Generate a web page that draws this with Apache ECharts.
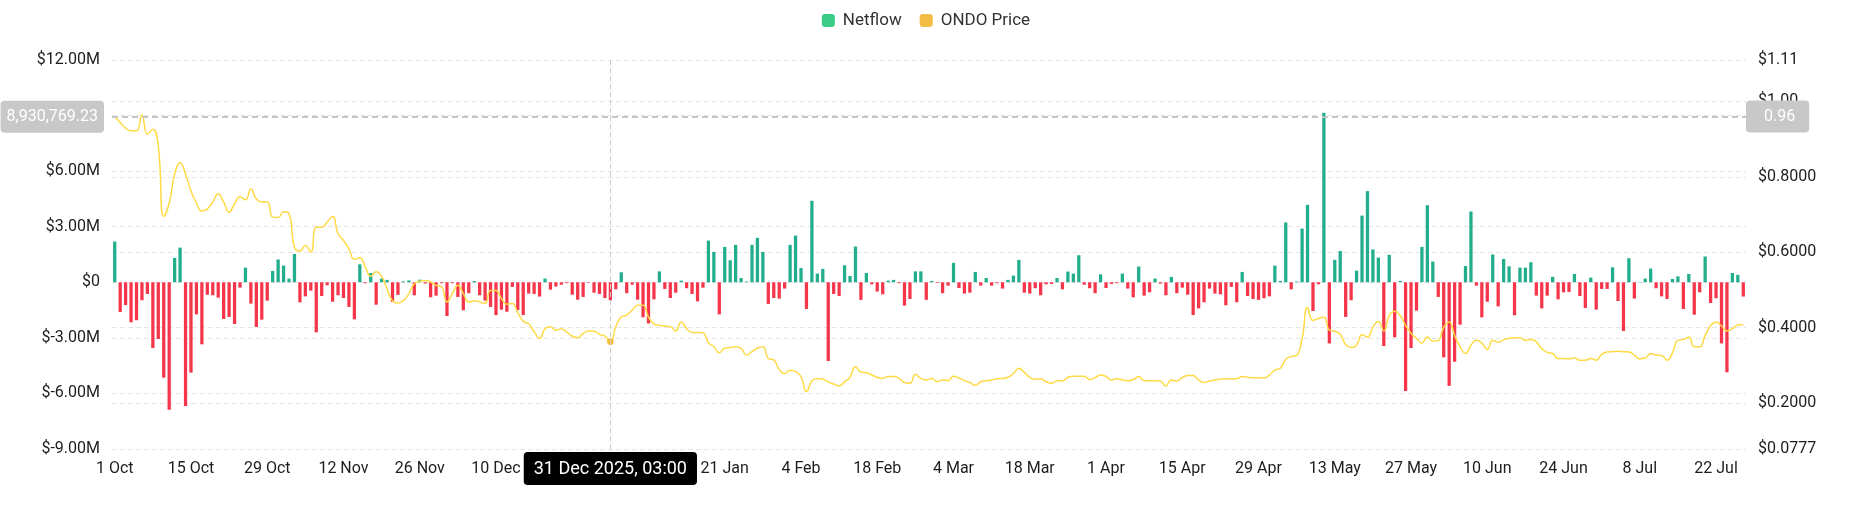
<!DOCTYPE html>
<html><head><meta charset="utf-8">
<script src="https://cdn.jsdelivr.net/npm/echarts@6/dist/echarts.min.js"></script>
<style>html,body{margin:0;padding:0;background:#fff}#c{width:1852px;height:525px}</style>
</head><body><div id="c"></div><script>
// First day of the daily series (UTC), each point stamped 03:00
const startDay = [2025, 9, 1, 3, 0];
const MONTHS = ['Jan','Feb','Mar','Apr','May','Jun','Jul','Aug','Sep','Oct','Nov','Dec'];

// Daily netflow, in millions of USD
const netflowM = [
 2.2,-1.6,-1.23,-2.16,-2.05,-0.97,-0.63,-3.55,-3.06,-5.15,
 -6.88,1.32,1.87,-6.68,-4.88,-1.73,-3.35,-0.67,-0.70,-0.83,
 -1.98,-1.87,-2.25,-0.29,0.79,-1.15,-2.41,-2.02,-0.99,0.61,
 1.23,0.9,0.2,1.53,-1.08,-0.76,-0.45,-2.7,-0.74,-0.16,
 -1.05,-0.70,-0.85,-1.33,-2.0,0.97,-0.05,0.5,-1.21,0.2,
 0.13,-1.06,-0.68,0.05,0.1,-0.7,0.14,-0.07,-0.81,-0.72,
 -0.05,-1.82,-0.05,-0.79,-1.51,-0.59,0.07,-0.7,-0.99,-1.33,
 -1.77,-1.48,-1.59,-0.25,-1.5,-1.77,-0.61,-0.63,-0.77,0.2,
 -0.4,-0.23,-0.13,-0.05,-0.67,-0.94,-0.79,-0.03,-0.56,-0.63,
 -0.85,-0.97,-0.38,0.54,-0.59,-0.13,-0.94,-1.89,-2.22,-0.92,
 0.59,-0.36,-0.85,-0.56,0.09,-0.32,-0.63,-1.03,-0.29,2.25,
 1.64,-1.73,1.91,1.19,2.02,0.23,0.04,2.02,2.4,1.64,
 -1.17,-0.85,-0.88,-0.34,2.02,2.52,0.77,-1.44,4.4,0.47,
 0.72,-4.25,-0.63,-0.74,0.92,0.34,1.93,-0.95,0.5,-0.11,
 -0.5,-0.65,0.09,0.13,-0.05,-1.26,-0.9,0.59,0.59,-0.95,
 0.07,-0.04,-0.59,-0.18,1.05,-0.31,-0.61,-0.56,0.56,-0.18,
 0.23,-0.18,-0.05,-0.34,0.13,0.36,1.21,-0.56,-0.61,-0.32,
 -0.70,-0.11,-0.09,0.23,-0.38,0.58,0.47,1.46,-0.13,-0.32,
 -0.59,0.43,-0.31,-0.09,-0.05,0.47,-0.34,-0.81,0.85,-0.72,
 -0.54,0.2,-0.07,-0.70,0.29,-0.59,-0.29,-0.67,-1.77,-1.41,
 -1.08,-0.34,-0.61,-0.65,-1.24,-0.25,-1.08,0.56,-0.74,-0.9,
 -0.95,-0.86,-0.76,0.9,0.07,3.23,-0.38,0.04,2.9,4.18,
 -1.55,-0.11,9.15,-3.3,1.21,1.69,-1.87,-0.97,0.63,3.6,
 4.92,1.77,1.33,-3.44,1.48,-2.97,0.07,-5.87,-3.55,-1.53,
 1.91,4.16,1.12,-0.79,-4.05,-5.59,-4.29,-2.29,0.88,3.82,
 -0.18,-1.89,-1.05,1.5,-1.3,1.26,0.86,-1.78,0.79,0.79,
 1.08,-0.72,-1.41,-0.72,0.29,-0.92,-0.54,-0.52,0.45,-0.74,
 -1.39,0.25,-1.48,-0.36,-0.36,0.81,-1.01,-2.63,1.3,-0.88,
 0.02,0.2,0.74,-0.32,-0.76,-0.9,0.18,0.32,-1.44,0.45,
 -1.75,-0.54,1.39,-1.12,-0.86,-3.3,-4.86,0.5,0.4,-0.77
];

// Daily ONDO price, USD
const ondoPrice = [
 0.96,0.944,0.929,0.922,0.922,0.964,0.913,0.926,0.88,0.695,
 0.73,0.807,0.837,0.807,0.763,0.73,0.709,0.715,0.733,0.755,
 0.733,0.706,0.728,0.747,0.739,0.768,0.741,0.733,0.733,0.693,
 0.692,0.707,0.702,0.613,0.603,0.618,0.6,0.666,0.666,0.68,
 0.695,0.649,0.631,0.609,0.581,0.585,0.561,0.536,0.548,0.536,
 0.503,0.471,0.465,0.472,0.49,0.516,0.523,0.525,0.521,0.512,
 0.508,0.468,0.49,0.512,0.49,0.468,0.471,0.468,0.464,0.498,
 0.498,0.477,0.462,0.464,0.439,0.417,0.41,0.389,0.371,0.397,
 0.402,0.393,0.396,0.388,0.377,0.373,0.384,0.391,0.39,0.382,
 0.377,0.362,0.402,0.428,0.433,0.446,0.459,0.459,0.428,0.41,
 0.406,0.404,0.402,0.391,0.415,0.397,0.387,0.387,0.386,0.36,
 0.349,0.333,0.345,0.347,0.349,0.345,0.327,0.336,0.345,0.349,
 0.318,0.314,0.289,0.278,0.287,0.283,0.27,0.23,0.259,0.265,
 0.263,0.256,0.25,0.245,0.256,0.268,0.296,0.282,0.28,0.274,
 0.268,0.265,0.27,0.27,0.265,0.254,0.252,0.276,0.265,0.261,
 0.265,0.256,0.261,0.259,0.271,0.266,0.259,0.254,0.247,0.256,
 0.259,0.261,0.264,0.265,0.268,0.278,0.292,0.281,0.268,0.263,
 0.264,0.256,0.252,0.259,0.259,0.268,0.271,0.271,0.271,0.262,
 0.267,0.274,0.27,0.261,0.264,0.261,0.259,0.262,0.27,0.259,
 0.259,0.259,0.258,0.245,0.261,0.258,0.267,0.273,0.273,0.261,
 0.254,0.258,0.261,0.263,0.264,0.264,0.264,0.27,0.268,0.267,
 0.267,0.266,0.274,0.287,0.292,0.316,0.323,0.326,0.371,0.453,
 0.419,0.424,0.428,0.393,0.39,0.382,0.355,0.347,0.353,0.381,
 0.375,0.401,0.416,0.391,0.432,0.443,0.432,0.406,0.385,0.371,
 0.359,0.375,0.364,0.366,0.401,0.415,0.379,0.349,0.331,0.353,
 0.366,0.359,0.342,0.366,0.361,0.368,0.371,0.373,0.373,0.366,
 0.368,0.362,0.344,0.334,0.331,0.318,0.318,0.317,0.32,0.313,
 0.313,0.318,0.313,0.329,0.335,0.336,0.337,0.336,0.335,0.327,
 0.317,0.319,0.331,0.327,0.326,0.313,0.333,0.366,0.368,0.375,
 0.349,0.349,0.379,0.405,0.415,0.404,0.391,0.397,0.407,0.408
];

// Left axis (USD): min / max / step, in millions
const leftAxisTicksM = [-9, 12, 3];
// Right axis (USD): extent
const rightAxisExtent = [0.0777, 1.11];
// Hover read-out shown in the picture
const pointerDay = '2025-12-31';
const pointerNetflow = 8930769.23;
const pointerPrice = 0.96;

const categories = [];
const t0 = Date.UTC(startDay[0], startDay[1], startDay[2], startDay[3], startDay[4]);
for (let i = 0; i < netflowM.length; i++) categories.push(new Date(t0 + i * 86400000).toISOString());
const pointerIndex = categories.findIndex(c => c.slice(0, 10) === pointerDay);

const FONT = 'Roboto';
const TXT = '#1d1d1d';
const pad2 = n => (n < 10 ? '0' : '') + n;
function shortDate(v) { const d = new Date(v); return d.getUTCDate() + ' ' + MONTHS[d.getUTCMonth()]; }
function longDate(v) { const d = new Date(v); return d.getUTCDate() + ' ' + MONTHS[d.getUTCMonth()] + ' ' + d.getUTCFullYear() + ', ' + pad2(d.getUTCHours()) + ':' + pad2(d.getUTCMinutes()); }

const chart = echarts.init(document.getElementById('c'), null, { renderer: 'canvas' });
const gridLine = { show: true, lineStyle: { color: '#E6E6E6', type: [5, 3], width: 1 } };
chart.setOption({
  animation: false,
  textStyle: { fontFamily: FONT },
  legend: {
    top: 7, left: 'center', icon: 'roundRect', itemWidth: 13, itemHeight: 13, itemGap: 18,
    textStyle: { fontFamily: FONT, fontSize: 17, color: '#333', padding: [0, 0, 0, 3] },
    data: [
      { name: 'Netflow', itemStyle: { color: '#3ACB86' } },
      { name: 'ONDO Price', itemStyle: { color: '#F2BC45' } }
    ]
  },
  grid: { left: 112, right: 106, top: 60, bottom: 76 },
  xAxis: {
    type: 'category', data: categories, boundaryGap: true,
    axisLine: { show: false }, axisTick: { show: false }, splitLine: { show: false },
    axisLabel: { interval: 13, margin: 12, fontSize: 16, color: TXT, fontFamily: FONT, formatter: shortDate },
    axisPointer: {
      show: true, status: 'show', value: pointerIndex, type: 'line', triggerTooltip: false,
      lineStyle: { color: '#CCCCCC', type: [5, 3], width: 1 },
      label: { show: true, backgroundColor: '#000', color: '#fff', fontSize: 18, fontFamily: FONT,
        padding: [8, 10, 7, 10], borderRadius: 4, margin: 3,
        formatter: p => longDate(categories[Math.round(p.value)] || p.value) }
    }
  },
  yAxis: [
    {
      type: 'value', min: leftAxisTicksM[0] * 1e6, max: leftAxisTicksM[1] * 1e6, interval: leftAxisTicksM[2] * 1e6,
      axisLine: { show: false }, axisTick: { show: false }, splitLine: gridLine,
      axisLabel: { fontSize: 16, color: TXT, margin: 12, fontFamily: FONT,
        formatter: v => v === 0 ? '$0' : '$' + (v / 1e6).toFixed(2) + 'M' },
      axisPointer: {
        show: true, status: 'show', value: pointerNetflow, type: 'line', triggerTooltip: false,
        lineStyle: { color: '#C4C4C4', type: [6, 4], width: 1.5 },
        label: { show: true, backgroundColor: '#C8C8C8', color: '#fff', fontSize: 16, fontFamily: FONT,
          padding: [8, 6], borderRadius: 4, margin: 8,
          formatter: p => Number(p.value).toLocaleString('en-US', { minimumFractionDigits: 2, maximumFractionDigits: 2 }) }
      }
    },
    {
      type: 'value', min: rightAxisExtent[0], max: rightAxisExtent[1], position: 'right',
      axisLine: { show: false }, axisTick: { show: false }, splitLine: gridLine,
      axisLabel: { fontSize: 16, color: TXT, margin: 12, fontFamily: FONT, showMinLabel: true, showMaxLabel: true,
        formatter: v => '$' + (v >= 1 ? v.toFixed(2) : v.toFixed(4)) },
      axisPointer: {
        show: true, status: 'show', value: pointerPrice, type: 'line', triggerTooltip: false,
        lineStyle: { color: '#C4C4C4', type: [6, 4], width: 1.5 },
        label: { show: true, backgroundColor: '#C8C8C8', color: '#fff', fontSize: 16, fontFamily: FONT,
          padding: [8, 14, 8, 18], borderRadius: 4, margin: 0,
          formatter: p => Number(p.value).toFixed(2) }
      }
    }
  ],
  series: [
    {
      name: 'Netflow', type: 'bar', yAxisIndex: 0, barWidth: '60%',
      data: netflowM.map(v => v * 1e6),
      itemStyle: { color: p => p.value >= 0 ? '#22AD8D' : '#F5364A' },
      emphasis: { disabled: true }
    },
    {
      name: 'ONDO Price', type: 'line', yAxisIndex: 1, data: ondoPrice,
      smooth: true, showSymbol: false, symbol: 'circle', symbolSize: 6,
      lineStyle: { width: 1.5, color: '#FFC740' }, itemStyle: { color: '#F5BD3C' }
    }
  ]
});
chart.dispatchAction({ type: 'highlight', seriesIndex: 1, dataIndex: pointerIndex });
</script></body></html>
